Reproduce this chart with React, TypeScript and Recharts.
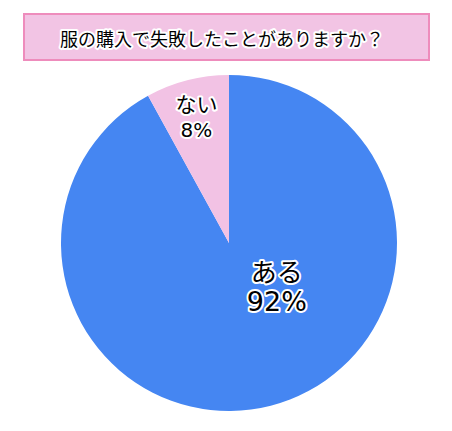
import React from "react";
import { PieChart, Pie, Cell } from "recharts";

const categories = ["ある", "ない"];
const values = [92, 8];
const colors = ["#4586F2", "#F2C2E4"];
const title = "服の購入で失敗したことがありますか？";

const data = categories.map((name, i) => ({ name, value: values[i] }));

const FONT = '"Noto Sans CJK JP", "Noto Sans", sans-serif';
const NUM_FONT = '"DejaVu Sans", "Noto Sans", sans-serif';

const renderLabel = (props: any) => {
  const { cx, cy, midAngle, outerRadius, index, name, value } = props;
  const RAD = Math.PI / 180;
  let x: number, y: number, fs: number, nfs: number, lh: number;
  if (index === 0) {
    x = cx + outerRadius * 0.285;
    y = cy + outerRadius * 0.255;
    fs = 26;
    nfs = 27;
    lh = 31;
  } else {
    const r = outerRadius * 0.78;
    x = cx + r * Math.cos(-midAngle * RAD);
    y = cy + r * Math.sin(-midAngle * RAD);
    fs = 21;
    nfs = 20;
    lh = 27;
  }
  const common = {
    textAnchor: "middle" as const,
    dominantBaseline: "central" as const,
    fill: "#000",
    stroke: "#fff",
    strokeWidth: 4,
    strokeLinejoin: "round" as const,
    paintOrder: "stroke" as const,
  };
  return (
    <g key={`lbl-${index}`}>
      <text {...common} x={x} y={y - lh / 2} fontFamily={FONT} fontSize={fs}>
        {name}
      </text>
      <text {...common} x={x} y={y + lh / 2} fontFamily={NUM_FONT} fontSize={nfs}>
        {`${value}%`}
      </text>
    </g>
  );
};

export default function App() {
  return (
    <div style={{ position: "absolute", left: 0, top: 0, width: 452, height: 431, background: "#fff" }}>
      <svg width={452} height={431} style={{ position: "absolute", left: 0, top: 0 }}>
        <rect x={24} y={14} width={405} height={46} fill="#F2C4E4" stroke="#EE8CBC" strokeWidth={2} />
        <text
          x={222}
          y={38}
          textAnchor="middle"
          dominantBaseline="central"
          fontFamily={FONT}
          fontSize={18}
          fill="#000"
          stroke="#fff"
          strokeWidth={4}
          strokeLinejoin="round"
          paintOrder="stroke"
        >
          {title}
        </text>
      </svg>
      <div style={{ position: "absolute", left: 0, top: 0 }}>
        <PieChart width={452} height={431}>
          <Pie
            data={data}
            dataKey="value"
            nameKey="name"
            cx={224}
            cy={238}
            outerRadius={168}
            startAngle={90}
            endAngle={-270}
            stroke="none"
            label={renderLabel}
            labelLine={false}
            isAnimationActive={false}
          >
            {data.map((d, i) => (
              <Cell key={d.name} fill={colors[i]} />
            ))}
          </Pie>
        </PieChart>
      </div>
    </div>
  );
}
